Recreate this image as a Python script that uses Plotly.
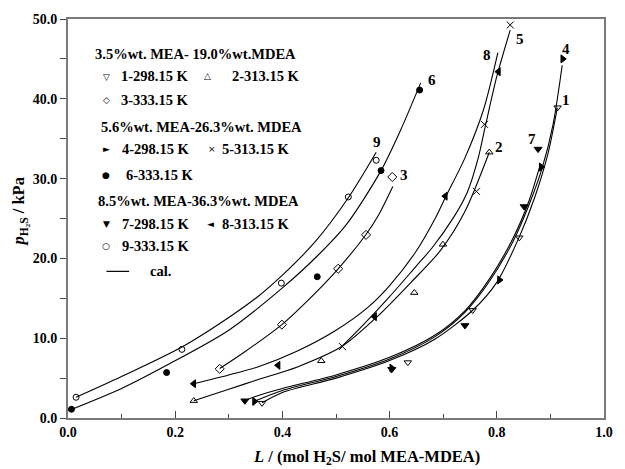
import plotly.graph_objects as go

s1_x = [0.362, 0.634, 0.755, 0.842, 0.9135]
s1_y = [1.87, 6.96, 13.5, 22.6, 38.9]
s2_x = [0.2346, 0.4725, 0.646, 0.6995, 0.786]
s2_y = [2.16, 7.16, 15.7, 21.75, 33.3]
s3_x = [0.283, 0.399, 0.504, 0.556, 0.605]
s3_y = [6.16, 11.7, 18.7, 22.95, 30.2]
s4_x = [0.348, 0.604, 0.805, 0.883, 0.923]
s4_y = [2.08, 6.25, 17.3, 31.45, 45.0]
s5_x = [0.512, 0.762, 0.777, 0.825]
s5_y = [8.95, 28.4, 36.8, 49.25]
s6_x = [0.0065, 0.184, 0.465, 0.584, 0.656]
s6_y = [1.1, 5.7, 17.7, 31.0, 41.1]
s7_x = [0.33, 0.604, 0.7406, 0.851, 0.877]
s7_y = [2.16, 6.1, 11.6, 26.5, 33.7]
s8_x = [0.2346, 0.392, 0.572, 0.704, 0.803]
s8_y = [4.3, 6.6, 12.7, 27.8, 43.4]
s9_x = [0.015, 0.2125, 0.398, 0.523, 0.575]
s9_y = [2.6, 8.6, 16.9, 27.7, 32.3]

# ---------------- calculated curves -----------
c1_x = [0.362, 0.4, 0.5, 0.6, 0.685, 0.755, 0.8, 0.842, 0.87, 0.895, 0.913]
c1_y = [1.9, 3.2, 5.0, 7.2, 9.9, 13.5, 17.0, 22.7, 27.5, 33.0, 38.9]
c2_x = [0.2346, 0.3, 0.354, 0.428, 0.5106, 0.58, 0.64, 0.695, 0.74, 0.786]
c2_y = [2.16, 3.6, 4.8, 6.4, 8.95, 12.9, 17.0, 21.0, 25.8, 33.3]
c3_x = [0.283, 0.33, 0.399, 0.45, 0.504, 0.556, 0.58, 0.606]
c3_y = [6.2, 8.3, 11.7, 14.9, 18.7, 23.0, 25.5, 29.0]
c4_x = [0.348, 0.4, 0.5, 0.6, 0.685, 0.74, 0.787, 0.83, 0.86, 0.885, 0.905, 0.922]
c4_y = [2.1, 3.45, 5.2, 7.4, 10.2, 13.2, 17.2, 22.1, 26.7, 31.4, 36.8, 44.2]
c5_x = [0.5106, 0.55, 0.6, 0.6486, 0.679, 0.72, 0.745, 0.765, 0.78, 0.80, 0.825]
c5_y = [8.95, 11.6, 15.2, 18.95, 21.3, 25.2, 28.3, 32.5, 37.0, 42.8, 48.6]
c6_x = [0.0, 0.1, 0.184, 0.3, 0.4, 0.465, 0.52, 0.584, 0.62, 0.658]
c6_y = [0.9, 3.7, 6.6, 11.0, 16.3, 20.3, 24.3, 31.0, 36.0, 42.0]
c7_x = [0.33, 0.354, 0.4, 0.5, 0.6, 0.685, 0.74, 0.787, 0.83, 0.86, 0.88]
c7_y = [2.2, 2.8, 3.7, 5.4, 7.6, 10.4, 13.4, 17.5, 22.5, 27.2, 31.5]
c8_x = [0.2346, 0.3, 0.354, 0.428, 0.5, 0.56, 0.6, 0.6486, 0.685, 0.7038, 0.7406, 0.775, 0.802]
c8_y = [4.3, 5.4, 6.4, 8.4, 11.0, 13.9, 16.6, 20.8, 25.0, 27.6, 32.6, 38.6, 45.8]
c9_x = [0.015, 0.1, 0.2125, 0.3, 0.354, 0.4, 0.46, 0.523, 0.575]
c9_y = [2.6, 5.2, 8.9, 12.6, 15.2, 17.9, 22.0, 27.6, 33.3]

curve_labels = ["1", "2", "3", "4", "5", "6", "7", "8", "9"]
label_x = [0.9295, 0.804, 0.627, 0.9295, 0.843, 0.679, 0.866, 0.782, 0.576]
label_y = [39.8, 34.0, 30.5, 46.25, 47.5, 42.4, 35.0, 45.5, 34.6]

x_ticks = [0.0, 0.2, 0.4, 0.6, 0.8, 1.0]
y_ticks = [0, 10, 20, 30, 40, 50]

FONT = "Liberation Serif"
fig = go.Figure()

curves = [(c1_x, c1_y), (c2_x, c2_y), (c3_x, c3_y), (c4_x, c4_y), (c5_x, c5_y),
          (c6_x, c6_y), (c7_x, c7_y), (c8_x, c8_y), (c9_x, c9_y)]
for cx, cy in curves:
    fig.add_trace(go.Scatter(x=cx, y=cy, mode="lines",
                             line=dict(color="black", width=1.1, shape="spline", smoothing=0.8),
                             showlegend=False, hoverinfo="skip"))

series = [
    (s1_x, s1_y, "triangle-down-open", 6.5),
    (s2_x, s2_y, "triangle-up-open", 6.5),
    (s3_x, s3_y, "diamond-open", 7),
    (s4_x, s4_y, "triangle-right", 7),
    (s5_x, s5_y, "x-thin-open", 7),
    (s6_x, s6_y, "circle", 6),
    (s7_x, s7_y, "triangle-down", 7),
    (s8_x, s8_y, "triangle-left", 7),
    (s9_x, s9_y, "circle-open", 6),
]
for sx, sy, sym, sz in series:
    fig.add_trace(go.Scatter(x=sx, y=sy, mode="markers", cliponaxis=False,
                             marker=dict(symbol=sym, size=sz, color="black",
                                         line=dict(color="black", width=1)),
                             showlegend=False))

for t, lx, ly in zip(curve_labels, label_x, label_y):
    fig.add_annotation(x=lx, y=ly, text="<b>%s</b>" % t, showarrow=False,
                       font=dict(family=FONT, size=15, color="black"))

# ---------------- legend block (text annotations) ----------------
L, R, T, B = 68, 611, 18, 418
def P(px, py):
    return (px - L) / (R - L), (B - py) / (B - T)

legend_text = [
    ("3.5%wt. MEA- 19.0%wt.MDEA", 93, 53),
    ("1-298.15 K", 120, 75), ("2-313.15 K", 232, 75), ("3-333.15 K", 120, 99),
    ("5.6%wt. MEA-26.3%wt. MDEA", 99, 126),
    ("4-298.15 K", 121, 148), ("5-313.15 K", 222, 148), ("6-333.15 K", 125, 174),
    ("8.5%wt. MEA-36.3%wt. MDEA", 96, 200),
    ("7-298.15 K", 121, 224), ("8-313.15 K", 222, 224), ("9-333.15 K", 121, 246),
    ("cal.", 149, 271),
]
for txt, px, py in legend_text:
    ax, ay = P(px, py)
    fig.add_annotation(xref="paper", yref="paper", x=ax, y=ay, xanchor="left", yanchor="middle",
                       text="<b>%s</b>" % txt, showarrow=False,
                       font=dict(family=FONT, size=14.5, color="black"))

legend_glyphs = [("▽", 107, 76), ("△", 209, 75), ("◇", 107, 99), ("►", 107, 148),
                 ("×", 214, 148), ("●", 107, 174), ("▼", 107, 224), ("◄", 212, 224),
                 ("○", 107, 246)]
for g, px, py in legend_glyphs:
    ax, ay = P(px, py)
    fig.add_annotation(xref="paper", yref="paper", x=ax, y=ay, xanchor="center", yanchor="middle",
                       text=g, showarrow=False, font=dict(family="DejaVu Sans", size=9, color="black"))

lx0, ly0 = P(107, 271)
lx1, _ = P(130, 271)
fig.add_shape(type="line", xref="paper", yref="paper", x0=lx0, x1=lx1, y0=ly0, y1=ly0,
              line=dict(color="black", width=1.2))

# ---------------- axis titles ----------------
tx, _ = P(370, 0)
fig.add_annotation(xref="paper", yref="paper", x=tx, y=0, yshift=-39, yanchor="middle",
                   text="<b><i>L</i> / (mol H<sub>2</sub>S/ mol MEA-MDEA)</b>", showarrow=False,
                   font=dict(family=FONT, size=16.5, color="black"))
_, ty = P(0, 212)
fig.add_annotation(xref="paper", yref="paper", x=0, xshift=-49, y=ty, xanchor="center",
                   textangle=-90, text="<b><i>p</i><sub>H₂S</sub> / kPa</b>", showarrow=False,
                   font=dict(family=FONT, size=16.5, color="black"))

axis_common = dict(showgrid=False, zeroline=False, showline=True, mirror=True,
                   linecolor="#7a7a7a", linewidth=2,
                   tickfont=dict(family=FONT, size=14, color="black", weight="bold"),
                   tickcolor="#444")
fig.update_xaxes(range=[0, 1.0], tickvals=x_ticks, tickformat=".1f", ticks="inside",
                 ticklen=7, tickwidth=1.2,
                 minor=dict(dtick=0.1, ticks="inside", ticklen=4, tickcolor="#444", tickwidth=1.2),
                 **axis_common)
fig.update_yaxes(range=[0, 50], tickvals=y_ticks, tickformat=".1f", ticks="outside",
                 ticklen=6, tickwidth=1.2,
                 minor=dict(dtick=5, ticks="outside", ticklen=6, tickcolor="#444", tickwidth=1.2),
                 **axis_common)

fig.update_layout(width=625, height=469, margin=dict(l=L, r=625 - R, t=T, b=469 - B),
                  plot_bgcolor="white", paper_bgcolor="white", showlegend=False)

fig.write_html("out.html")
